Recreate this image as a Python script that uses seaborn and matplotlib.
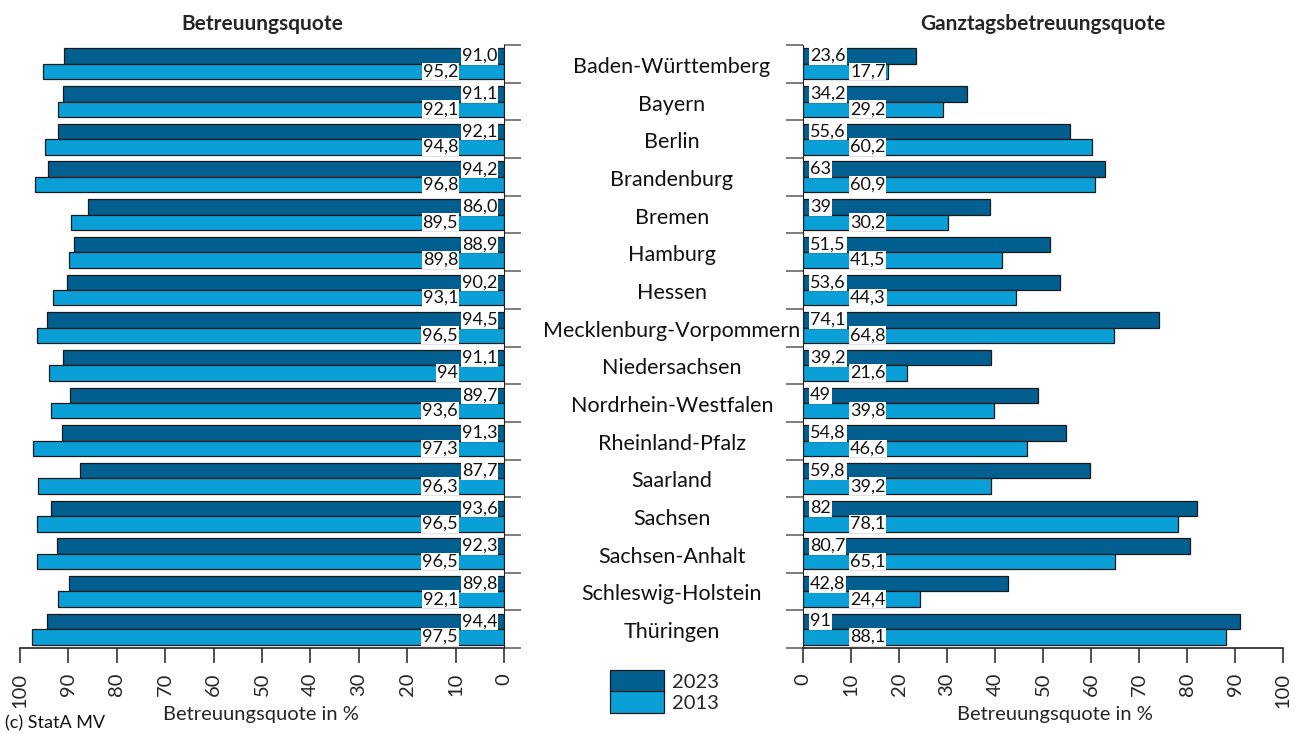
import matplotlib
matplotlib.use("Agg")
import matplotlib.pyplot as plt
import seaborn as sns
import pandas as pd
import numpy as np
from matplotlib.transforms import blended_transform_factory

laender = ["Baden-Württemberg", "Bayern", "Berlin", "Brandenburg", "Bremen", "Hamburg",
           "Hessen", "Mecklenburg-Vorpommern", "Niedersachsen", "Nordrhein-Westfalen",
           "Rheinland-Pfalz", "Saarland", "Sachsen", "Sachsen-Anhalt",
           "Schleswig-Holstein", "Thüringen"]

bq_2023 = [91.0, 91.1, 92.1, 94.2, 86.0, 88.9, 90.2, 94.5, 91.1, 89.7, 91.3, 87.7, 93.6, 92.3, 89.8, 94.4]
bq_2013 = [95.2, 92.1, 94.8, 96.8, 89.5, 89.8, 93.1, 96.5, 94.0, 93.6, 97.3, 96.3, 96.5, 96.5, 92.1, 97.5]
bq_2023_lbl = ["91,0", "91,1", "92,1", "94,2", "86,0", "88,9", "90,2", "94,5", "91,1", "89,7", "91,3", "87,7", "93,6", "92,3", "89,8", "94,4"]
bq_2013_lbl = ["95,2", "92,1", "94,8", "96,8", "89,5", "89,8", "93,1", "96,5", "94", "93,6", "97,3", "96,3", "96,5", "96,5", "92,1", "97,5"]

gt_2023 = [23.6, 34.2, 55.6, 63.0, 39.0, 51.5, 53.6, 74.1, 39.2, 49.0, 54.8, 59.8, 82.0, 80.7, 42.8, 91.0]
gt_2013 = [17.7, 29.2, 60.2, 60.9, 30.2, 41.5, 44.3, 64.8, 21.6, 39.8, 46.6, 39.2, 78.1, 65.1, 24.4, 88.1]
gt_2023_lbl = ["23,6", "34,2", "55,6", "63", "39", "51,5", "53,6", "74,1", "39,2", "49", "54,8", "59,8", "82", "80,7", "42,8", "91"]
gt_2013_lbl = ["17,7", "29,2", "60,2", "60,9", "30,2", "41,5", "44,3", "64,8", "21,6", "39,8", "46,6", "39,2", "78,1", "65,1", "24,4", "88,1"]

jahre = ["2023", "2013"]
xticks = list(range(0, 101, 10))

DARK = "#025F8F"
LIGHT = "#0AA0D7"
FONT = ["Lato", "DejaVu Sans"]

sns.set_style("white")
plt.rcParams["font.family"] = FONT

def long_df(v23, v13):
    return pd.DataFrame({
        "Land": laender * 2,
        "Jahr": [jahre[0]] * len(laender) + [jahre[1]] * len(laender),
        "Wert": list(v23) + list(v13),
    })

W, H = 1295, 734
fig = plt.figure(figsize=(W / 100, H / 100), dpi=100)
axL = fig.add_axes([20 / W, 1 - 648 / H, 484 / W, 603 / H])
axR = fig.add_axes([803 / W, 1 - 648 / H, 480 / W, 603 / H])

palette = {"2023": DARK, "2013": LIGHT}

for ax, (v23, v13, l23, l13), side in [
    (axL, (bq_2023, bq_2013, bq_2023_lbl, bq_2013_lbl), "left"),
    (axR, (gt_2023, gt_2013, gt_2023_lbl, gt_2013_lbl), "right"),
]:
    df = long_df(v23, v13)
    sns.barplot(data=df, y="Land", x="Wert", hue="Jahr", hue_order=jahre,
                order=laender, palette=palette, orient="h", width=0.82,
                edgecolor="#1a1a1a", linewidth=0.9, saturation=1, ax=ax, legend=True)
    ax.set_xlim(0, 100)
    ax.set_ylim(len(laender) - 0.5, -0.5)
    if side == "left":
        ax.invert_xaxis()
    ax.set_xticks(xticks)
    ax.set_xticklabels([str(t) for t in xticks], rotation=90, fontsize=14.5)
    ax.tick_params(axis="x", direction="out", length=11, width=1.2, color="#333333", pad=7, bottom=True)
    ax.set_yticks(np.arange(-0.5, len(laender) + 0.5, 1.0))
    ax.set_yticklabels([])
    for s in ax.spines.values():
        s.set_visible(False)
    ax.spines["bottom"].set_visible(True)
    ax.spines["bottom"].set_color("#222222")
    ax.spines["bottom"].set_linewidth(1.2)
    if side == "left":
        ax.spines["right"].set_visible(True)
        ax.spines["right"].set_color("#222222")
        ax.yaxis.set_ticks_position("right")
        ax.tick_params(axis="y", direction="out", length=12, width=1.2, color="#666666",
                       right=True, left=False)
    else:
        ax.spines["left"].set_visible(True)
        ax.spines["left"].set_color("#222222")
        ax.yaxis.set_ticks_position("left")
        ax.tick_params(axis="y", direction="out", length=12, width=1.2, color="#666666",
                       left=True, right=False)
    ax.set_ylabel("")
    ax.set_xlabel("Betreuungsquote in %", fontsize=14.5, labelpad=1)
    ax.grid(False)

    # value labels
    for cont, lbls, xpos in zip(ax.containers, [l23, l13],
                                [1.4, 9.5] if side == "left" else [1.5, 9.8]):
        for bar, lab in zip(cont, lbls):
            yc = bar.get_y() + bar.get_height() / 2
            ax.text(xpos, yc, lab, ha="right" if side == "left" else "left",
                    va="center", fontsize=13, color="#111111",
                    bbox=dict(facecolor="white", edgecolor="none", pad=0.6))
    handles, labels = ax.get_legend_handles_labels()
    ax.get_legend().remove()

axR.xaxis.set_label_coords(0.525, -0.097)
axL.xaxis.set_label_coords(0.497, -0.097)

axL.set_title("Betreuungsquote", fontsize=15, fontweight="bold", pad=11)
axR.set_title("Ganztagsbetreuungsquote", fontsize=15, fontweight="bold", pad=11)

# Country names between panels
trans = blended_transform_factory(fig.transFigure, axL.transData)
for i, name in enumerate(laender):
    fig.text(672 / W, i + 0.08, name, transform=trans, ha="center", va="center", fontsize=15.5, color="#111111")

leg = fig.legend(handles, labels, loc="upper left", bbox_to_anchor=(606 / W, 1 - 666 / H),
                 frameon=False, fontsize=14.5, handlelength=2.7, handleheight=1.3,
                 labelspacing=-0.05, handletextpad=0.4, borderaxespad=0, borderpad=0.2)
for h in leg.legend_handles:
    h.set_edgecolor("#1a1a1a")
    h.set_linewidth(0.9)

fig.text(5 / W, 1 - 723 / H, "(c) StatA MV", fontsize=13, va="center", ha="left", color="#111111")

fig.savefig("out.png", dpi=100)
